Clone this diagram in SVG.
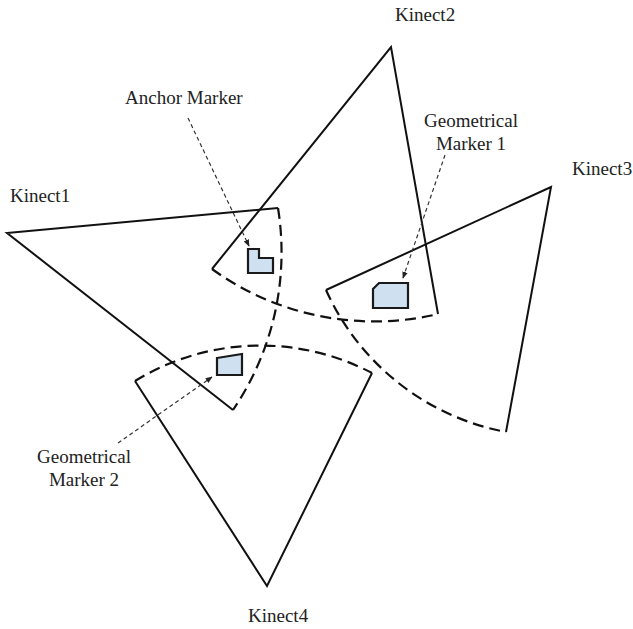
<svg xmlns="http://www.w3.org/2000/svg" width="633" height="629" viewBox="0 0 633 629">
  <defs>
    <marker id="tip" viewBox="0 0 10 10" refX="9" refY="5" markerWidth="7" markerHeight="7" orient="auto" markerUnits="userSpaceOnUse">
      <path d="M0,1 L10,5 L0,9 Z" fill="#222"/>
    </marker>
    <style>
      .edge { fill: none; stroke: #111; stroke-width: 2; stroke-linejoin: miter; }
      .arc { fill: none; stroke: #111; stroke-width: 2.2; stroke-dasharray: 11 6; }
      .lead { fill: none; stroke: #333; stroke-width: 1.2; stroke-dasharray: 4 3; marker-end: url(#tip); }
      .mark { fill: #cfe0f1; stroke: #1a1a1a; stroke-width: 2.2; stroke-linejoin: miter; }
      .lbl { font-family: "Liberation Serif", "Times New Roman", serif; font-size: 19px; fill: #222; }
    </style>
  </defs>
  <rect width="633" height="629" fill="#fff"/>

  <!-- sensor fields of view: two solid rays plus a dashed range arc -->
  <g id="kinect1">
    <path class="edge" d="M278,208 L7,233 L233,410"/>
    <path class="arc" d="M278,208 A280,280 0 0 1 233,410"/>
    <text class="lbl" x="10" y="202">Kinect1</text>
  </g>
  <g id="kinect2">
    <path class="edge" d="M212,269 L391,47 L438,314"/>
    <path class="arc" d="M212,269 A277,277 0 0 0 438,314"/>
    <text class="lbl" x="395" y="21">Kinect2</text>
  </g>
  <g id="kinect3">
    <path class="edge" d="M326,290 L551,187 L506,432"/>
    <path class="arc" d="M326,290 A248,248 0 0 0 506,432"/>
    <text class="lbl" x="572" y="175">Kinect3</text>
  </g>
  <g id="kinect4">
    <path class="edge" d="M135,381 L267,586 L372,373"/>
    <path class="arc" d="M135,381 A240,240 0 0 1 372,373"/>
    <text class="lbl" x="248" y="622">Kinect4</text>
  </g>

  <!-- markers -->
  <g id="anchor-marker">
    <polygon class="mark" points="248,249 259,249 259,258 273,258 273,273 248,273"/>
    <text class="lbl" x="125" y="104">Anchor Marker</text>
  </g>
  <g id="geo-marker-1">
    <polygon class="mark" points="379,283 408,283 408,308 373,308 373,289"/>
    <text class="lbl" x="471" y="127" text-anchor="middle">Geometrical</text>
    <text class="lbl" x="471" y="150" text-anchor="middle">Marker 1</text>
  </g>
  <g id="geo-marker-2">
    <polygon class="mark" points="217,358 242,354 242,375 217,375"/>
    <text class="lbl" x="84" y="463" text-anchor="middle">Geometrical</text>
    <text class="lbl" x="84" y="486" text-anchor="middle">Marker 2</text>
  </g>

  <!-- leader arrows from labels to markers -->
  <g id="connectors">
    <path class="lead" d="M188,118 L249,246"/>
    <path class="lead" d="M445,155 L403,278"/>
    <path class="lead" d="M118,443 L212,377"/>
  </g>
</svg>
